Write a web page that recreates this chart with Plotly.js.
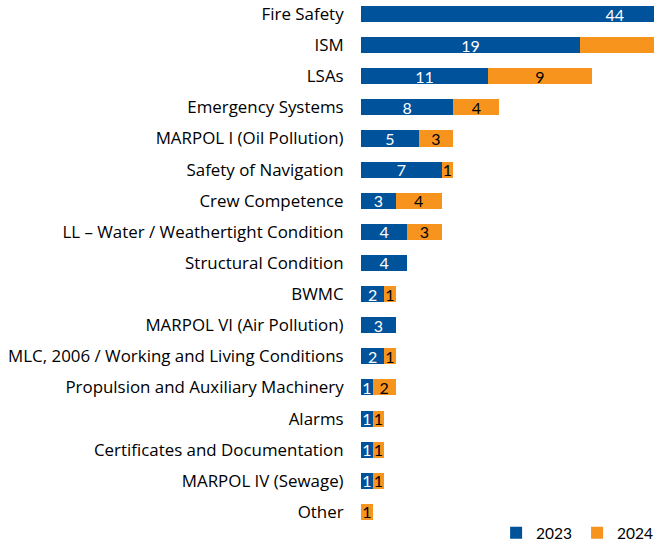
<!DOCTYPE html>
<html><head><meta charset="utf-8">
<script src="https://cdn.plot.ly/plotly-3.0.1.min.js"></script>
<style>html,body{margin:0;padding:0;background:#fff}#chart{width:654px;height:545px}</style>
</head><body><div id="chart"></div>
<script>
const categories = ["Fire Safety","ISM","LSAs","Emergency Systems","MARPOL I (Oil Pollution)","Safety of Navigation","Crew Competence","LL – Water / Weathertight Condition","Structural Condition","BWMC","MARPOL VI (Air Pollution)","MLC, 2006 / Working and Living Conditions","Propulsion and Auxiliary Machinery","Alarms","Certificates and Documentation","MARPOL IV (Sewage)","Other"];
const values2023 = [44,19,11,8,5,7,3,4,4,2,3,2,1,1,1,1,null];
const values2024 = [20,16,9,4,3,1,4,3,null,1,null,1,2,1,1,1,1];
const seriesNames = ["2023","2024"];
const colors = ["#00529B","#F7941D"];
const FONT = "'Open Sans', sans-serif";
const LFONT = "Lato, sans-serif";
const XMAX = 25.4;
function lab(v){return v.map(x=>x==null?"":String(x));}
function pos(base,v){return v.map((x,i)=>{const b=base?(base[i]||0):0;return (x!=null && b+x/2<XMAX-0.6)?"inside":"none";});}
const traces = [
  {type:"bar",orientation:"h",name:seriesNames[0],y:categories,x:values2023,text:lab(values2023),
   textposition:pos(null,values2023),insidetextanchor:"middle",textangle:0,constraintext:"none",
   insidetextfont:{color:"#ffffff",size:16,family:LFONT},marker:{color:colors[0],line:{width:0}},hoverinfo:"x+y"},
  {type:"bar",orientation:"h",name:seriesNames[1],y:categories,x:values2024,text:lab(values2024),
   textposition:pos(values2023,values2024),insidetextanchor:"middle",textangle:0,constraintext:"none",
   insidetextfont:{color:"#000000",size:16,family:LFONT},marker:{color:colors[1],line:{width:0}},hoverinfo:"x+y"}
];
const layout = {
  width:654,height:545,barmode:"stack",bargap:0.485,
  margin:{l:361,r:0,t:0,b:15,pad:0,autoexpand:false},
  paper_bgcolor:"#fff",plot_bgcolor:"#fff",
  font:{family:FONT,size:16.9,color:"#000"},
  xaxis:{range:[0,XMAX],visible:false,fixedrange:true},
  yaxis:{type:"category",range:[16.58,-0.45],showgrid:false,zeroline:false,showline:false,
    ticks:"outside",ticklen:13,tickcolor:"rgba(0,0,0,0)",tickfont:{family:FONT,size:16.9,color:"#000"}},
  showlegend:true,
  legend:{orientation:"h",x:1.014,xanchor:"right",y:-0.006,yanchor:"middle",font:{family:LFONT,size:15.5,color:"#000"},
    traceorder:"normal",itemwidth:30,bgcolor:"rgba(0,0,0,0)"},
  uniformtext:{mode:false}
};
Plotly.newPlot("chart",traces,layout,{displayModeBar:false,staticPlot:true});
</script></body></html>
